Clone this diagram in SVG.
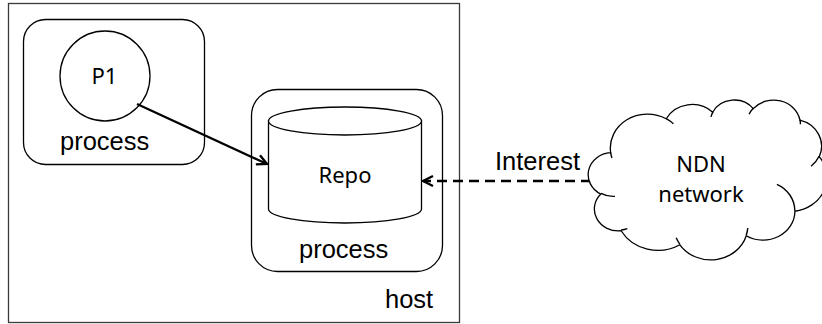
<svg xmlns="http://www.w3.org/2000/svg" width="822" height="324" viewBox="0 0 822 324">
  <style>
    .box { fill: #ffffff; stroke: #000000; stroke-width: 1.3; }
    .host { fill: #ffffff; stroke: #3a3a3a; stroke-width: 1.3; }
    .lbl { font-family: "Liberation Sans", Arial, sans-serif; font-size: 25.5px; fill: #000000; }
    .name { font-family: "Noto Sans", "Open Sans", sans-serif; font-size: 22px; fill: #000000; text-anchor: middle; }
    .conn { fill: none; stroke: #000000; stroke-width: 2.3; }
    .dash { stroke-dasharray: 10 6; stroke-width: 2.5; }
  </style>
  <defs>
    <marker id="arrow" viewBox="0 0 12 12" refX="11" refY="6" markerWidth="12" markerHeight="12" markerUnits="userSpaceOnUse" orient="auto">
      <path d="M1,1 L11,6 L1,11" fill="none" stroke="#000000" stroke-width="2.3"/>
    </marker>
  </defs>

  <!-- machine boundary -->
  <g id="host">
    <rect class="host" x="8.5" y="3.5" width="451" height="319"/>
    <text class="lbl" x="385" y="308">host</text>
  </g>

  <!-- producer process with its application -->
  <g id="process-p1">
    <rect class="box" x="23.5" y="19.5" width="181" height="145" rx="22" ry="22"/>
    <text class="lbl" x="60" y="150">process</text>
  </g>
  <g id="p1">
    <circle class="box" cx="105" cy="76" r="45"/>
    <text class="name" x="104.5" y="84">P1</text>
  </g>

  <!-- repository process -->
  <g id="process-repo">
    <rect class="box" x="251.5" y="89.5" width="191" height="182" rx="26" ry="26"/>
    <text class="lbl" x="299" y="258">process</text>
  </g>
  <g id="repo">
    <path class="box" d="M268.5,121 L268.5,209 A76.5,14 0 0 0 421.5,209 L421.5,121 Z"/>
    <ellipse class="box" cx="345" cy="121" rx="76.5" ry="14"/>
    <text class="name" x="345" y="183">Repo</text>
  </g>

  <!-- connectors -->
  <g id="connectors">
    <line class="conn" x1="137" y1="104" x2="267" y2="164" marker-end="url(#arrow)"/>
    <line class="conn dash" x1="591" y1="181" x2="423" y2="181" marker-end="url(#arrow)"/>
    <text class="lbl" x="495" y="170">Interest</text>
  </g>

  <!-- external network -->
  <g id="ndn-network">
    <path class="box" stroke-width="1.4" d="M610.65,152.67
      A37.14,34 0 0 1 666.22,118.74
      A29.33,26.89 0 0 1 712.70,112.19
      A24.01,22 0 0 1 753.28,108.68
      A26.71,24.40 0 0 1 799.94,120.13
      A29.33,26.91 0 0 1 819.20,156.70
      A37.26,34.11 0 0 1 794.93,211.26
      A31.82,29.11 0 0 1 746.26,235.71
      A37.14,34.10 0 0 1 679.85,244.79
      A42.46,39.01 0 0 1 621.13,230.76
      A23.98,21.90 0 0 1 600.83,194.05
      A23.90,22 0 0 1 610.65,152.67 Z"/>
    <path fill="none" stroke="#000000" stroke-width="1.4" d="M615.01,196.35 A23.90,22 0 0 1 601.07,193.40
      M627.30,228.63 A23.98,21.90 0 0 1 621.20,230.04
      M679.83,244.13 A37.14,34.10 0 0 1 676.16,237.69
      M747.75,228.08 A37.14,34.10 0 0 1 746.28,235.15
      M776.91,184.43 A31.82,29.11 0 0 1 794.80,210.83
      M819.09,156.31 A29.33,26.91 0 0 1 811.12,166.21
      M799.98,119.58 A26.71,24.40 0 0 1 800.41,124.26
      M749.13,114.12 A26.71,24.40 0 0 1 753.21,108.16
      M710.98,116.96 A24.01,22 0 0 1 712.95,111.82
      M666.20,118.71 A37.14,34 0 0 1 673.36,123.71
      M611.90,157.92 A37.14,34 0 0 1 610.65,152.68"/>
    <text class="name" x="701" y="172">NDN</text>
    <text class="name" x="701" y="202">network</text>
  </g>
</svg>
